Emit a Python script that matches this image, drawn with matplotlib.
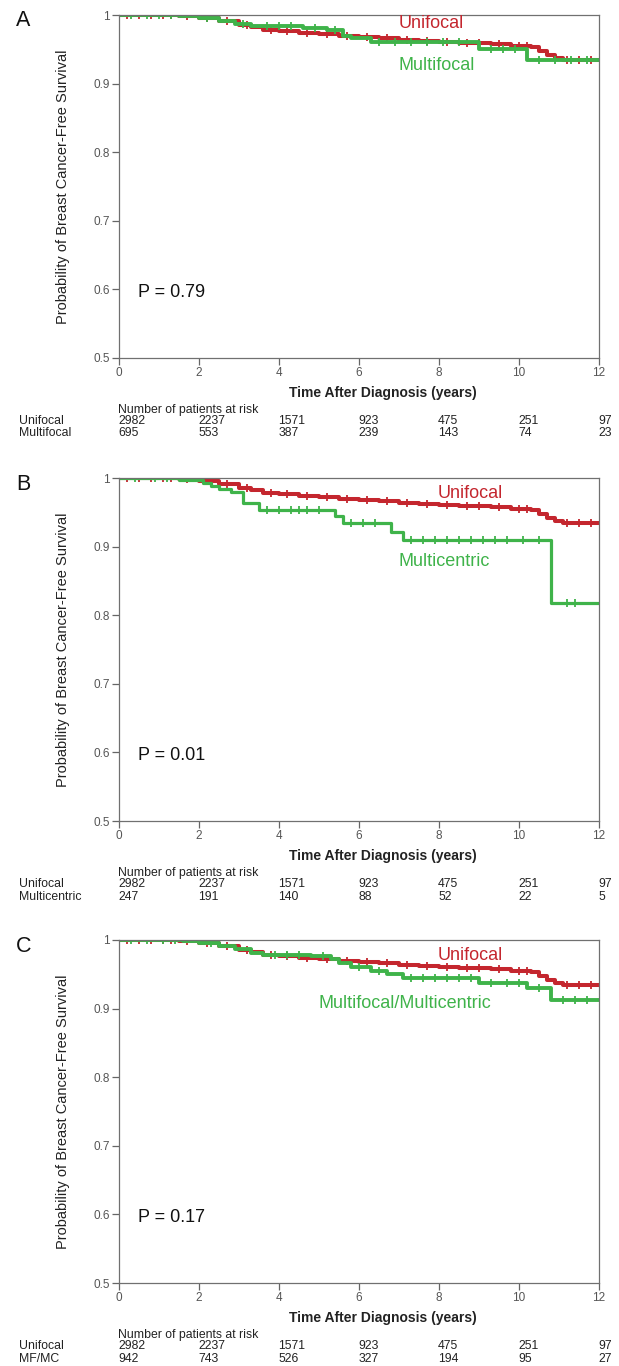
import numpy as np
import matplotlib.pyplot as plt

plt.rcParams['font.family'] = ['Liberation Sans', 'DejaVu Sans']

# Kaplan-Meier step points (time in years, survival)
uni_t = [0, 1.5, 2.0, 2.5, 3.0, 3.3, 3.6, 4.0, 4.5, 5.0, 5.5, 6.0, 6.5, 7.0, 7.5, 8.0, 8.5, 9.3, 9.8, 10.3, 10.5, 10.7, 10.9, 11.1, 12.0]
uni_s = [1.0, 0.998, 0.995, 0.991, 0.986, 0.982, 0.978, 0.976, 0.974, 0.972, 0.970, 0.968, 0.966, 0.964, 0.962, 0.961, 0.959, 0.957, 0.955, 0.953, 0.948, 0.942, 0.937, 0.935, 0.935]
uni_cens = [0.2, 0.5, 0.8, 1.1, 1.3, 1.7, 2.2, 2.7, 3.2, 3.8, 4.2, 4.7, 5.2, 5.7, 6.2, 6.7, 7.2, 7.7, 8.2, 8.7, 9.0, 9.5, 10.0, 10.2, 11.2, 11.5, 11.8]

mf_t = [0, 1.5, 2.0, 2.5, 2.9, 3.3, 4.6, 5.2, 5.6, 5.8, 6.3, 9.0, 10.2, 12.0]
mf_s = [1.0, 0.998, 0.995, 0.991, 0.987, 0.984, 0.981, 0.978, 0.970, 0.966, 0.960, 0.950, 0.934, 0.934]
mf_cens = [0.3, 0.7, 1.0, 1.3, 2.2, 3.1, 3.7, 4.0, 4.3, 4.9, 5.4, 6.5, 6.9, 7.3, 7.7, 8.1, 8.5, 9.3, 9.6, 9.9, 10.5, 10.9, 11.3, 11.7]

mc_t = [0, 1.5, 2.1, 2.3, 2.5, 2.8, 3.1, 3.5, 5.4, 5.6, 6.8, 7.1, 10.8, 12.0]
mc_s = [1.0, 0.997, 0.992, 0.988, 0.984, 0.980, 0.964, 0.954, 0.944, 0.934, 0.922, 0.909, 0.818, 0.818]
mc_cens = [0.4, 0.9, 1.2, 3.7, 4.0, 4.3, 4.5, 4.7, 5.0, 5.8, 6.1, 6.4, 7.3, 7.6, 7.9, 8.2, 8.5, 8.8, 9.1, 9.4, 9.7, 10.1, 10.5, 11.2, 11.4]

mfmc_t = [0, 1.6, 2.0, 2.5, 2.9, 3.3, 3.6, 4.8, 5.3, 5.5, 5.8, 6.3, 6.7, 7.1, 9.0, 10.2, 10.8, 12.0]
mfmc_s = [1.0, 0.998, 0.995, 0.991, 0.987, 0.981, 0.978, 0.976, 0.973, 0.966, 0.960, 0.955, 0.951, 0.944, 0.938, 0.930, 0.913, 0.913]
mfmc_cens = [0.3, 0.7, 1.1, 1.4, 2.3, 3.9, 4.2, 4.5, 5.1, 6.0, 6.5, 7.3, 7.6, 7.9, 8.2, 8.5, 8.8, 9.3, 9.7, 10.0, 10.5, 11.1, 11.4, 11.7]

risk_times = [0, 2, 4, 6, 8, 10, 12]
risk_uni = [2982, 2237, 1571, 923, 475, 251, 97]
risk_mf = [695, 553, 387, 239, 143, 74, 23]
risk_mc = [247, 191, 140, 88, 52, 22, 5]
risk_mfmc = [942, 743, 526, 327, 194, 95, 27]

panels = [
    ('A', 'Multifocal', 'Multifocal', mf_t, mf_s, mf_cens, risk_mf, 'P = 0.79', (6.98, 0.927)),
    ('B', 'Multicentric', 'Multicentric', mc_t, mc_s, mc_cens, risk_mc, 'P = 0.01', (6.98, 0.878)),
    ('C', 'Multifocal/Multicentric', 'MF/MC', mfmc_t, mfmc_s, mfmc_cens, risk_mfmc, 'P = 0.17', (4.98, 0.908)),
]
uni_label_pos = [(6.98, 0.987), (7.97, 0.978), (7.97, 0.978)]

RED = '#c4262e'
GREEN = '#3fb34a'

W, H = 619, 1366
fig = plt.figure(figsize=(W / 100, H / 100), dpi=100)
tops = [15, 478, 940]
ah = 343


def step_at(t, s, x):
    i = np.searchsorted(t, x, side='right') - 1
    return np.array(s)[i]


nf = ['Liberation Sans Narrow', 'Liberation Sans']
rfs = 8.8

for k, (letter, lab, short, gt, gs, gc, grisk, ptxt, gpos) in enumerate(panels):
    top = tops[k]
    ax = fig.add_axes([119 / W, 1 - (top + ah) / H, 480 / W, ah / H])

    ax.plot(uni_t, uni_s, drawstyle='steps-post', color=RED, lw=2.9)
    ax.plot(uni_cens, step_at(uni_t, uni_s, uni_cens), ls='none', marker='|', ms=6, mew=1.3, color=RED)
    ax.plot(gt, gs, drawstyle='steps-post', color=GREEN, lw=2.3 if k == 1 else 2.8)
    ax.plot(gc, step_at(gt, gs, gc), ls='none', marker='|', ms=6, mew=1.3, color=GREEN)

    ax.set_xlim(0, 12)
    ax.set_ylim(0.5, 1.0)
    ax.set_xticks(risk_times)
    ax.set_yticks([0.5, 0.6, 0.7, 0.8, 0.9, 1.0])
    ax.set_yticklabels(['0.5', '0.6', '0.7', '0.8', '0.9', '1'])
    ax.tick_params(direction='out', length=5, width=0.9, colors='#666666', labelsize=8.5,
                   labelcolor='#555555', pad=1.5)
    for sp in ax.spines.values():
        sp.set_color('#707070')
        sp.set_linewidth(0.9)

    ux, uy = uni_label_pos[k]
    ax.text(ux, uy, 'Unifocal', color=RED, fontsize=13, va='center', ha='left')
    ax.text(gpos[0], gpos[1], lab, color=GREEN, fontsize=13, va='center', ha='left')
    ax.text(0.475, 0.595, ptxt, fontsize=13, va='center', ha='left', color='#111111')

    tr = ax.get_xaxis_transform()
    ax.text(6.6, -35 / ah, 'Time After Diagnosis (years)', transform=tr, ha='center', va='center',
            fontsize=10, fontweight='bold', color='#222222')
    ax.text(-0.02, -52 / ah, 'Number of patients at risk', transform=tr, ha='left', va='center',
            fontsize=rfs, family=nf, color='#222222')
    ax.text(-2.5, -63 / ah, 'Unifocal', transform=tr, ha='left', va='center', fontsize=rfs,
            family=nf, color='#222222')
    ax.text(-2.5, -75.5 / ah, short, transform=tr, ha='left', va='center', fontsize=rfs,
            family=nf, color='#222222')
    for x, a, b in zip(risk_times, risk_uni, grisk):
        ax.text(x - 0.02, -63 / ah, str(a), transform=tr, ha='left', va='center', fontsize=rfs,
                family=nf, color='#222222')
        ax.text(x - 0.02, -75.5 / ah, str(b), transform=tr, ha='left', va='center', fontsize=rfs,
                family=nf, color='#222222')

    fig.text(63 / W, 1 - (top + ah / 2) / H, 'Probability of Breast Cancer-Free Survival',
             rotation=90, ha='center', va='center', fontsize=10.5, color='#222222')
    fig.text(16 / W, 1 - (top + 6) / H, letter, ha='left', va='center', fontsize=15.5, color='#111111')

fig.savefig('out.png', dpi=100)
